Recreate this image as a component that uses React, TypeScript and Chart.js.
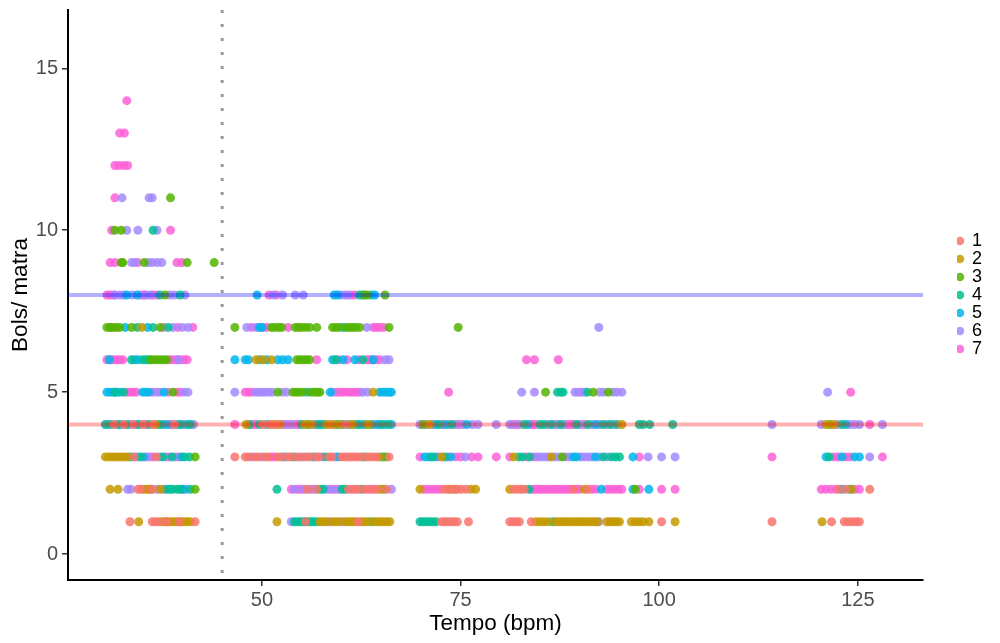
import React, { useEffect, useRef } from "react";
import { Chart, registerables } from "chart.js";

Chart.register(...registerables);

type Row = [number, number[]]; // [bols per matra, tempo values]

const seriesNames = ["1", "2", "3", "4", "5", "6", "7"];
const seriesColors = ["#F8766D", "#C49A00", "#53B400", "#00C094", "#00B6EB", "#A58AFF", "#FB61D7"];

const series1: Row[] = [
  [1, [33.4, 36.2, 36.6, 37.0, 38.0, 39.6, 41.6, 55.5, 62.1, 72.6, 73.0, 73.4, 73.8, 74.2, 74.6, 76.0, 81.2, 81.6, 82.0, 82.4, 83.9, 100.3, 114.2, 121.7, 123.3, 123.8, 124.3, 124.8, 125.2]],
  [2, [34.4, 34.8, 36.2, 55.7, 56.9, 60.9, 61.7, 62.1, 62.9, 63.3, 64.1, 64.5, 65.7, 72.9, 73.4, 74.0, 74.6, 75.1, 75.7, 81.7, 82.2, 82.6, 83.0, 89.2, 91.0, 122.6, 123.5, 126.5]],
  [3, [33.9, 36.7, 46.6, 47.9, 48.3, 49.1, 49.5, 50.4, 50.8, 52.0, 52.4, 53.2, 53.6, 54.4, 54.8, 55.6, 56.0, 56.8, 57.2, 58.4, 58.8, 60.0, 60.4, 60.8, 61.2, 61.6, 62.0, 62.4, 63.2, 63.6, 64.0, 64.4, 66.0]],
  [4, [31.4, 32.6, 33.8, 35.0, 36.2, 39.0, 50.1, 51.0, 51.8, 60.6]],
];

const series2: Row[] = [
  [1, [34.5, 37.4, 37.8, 38.2, 38.6, 39.0, 39.4, 39.8, 40.2, 40.6, 41.0, 51.9, 57.3, 57.7, 58.1, 58.9, 59.3, 59.7, 60.5, 60.9, 61.3, 61.7, 62.5, 62.9, 63.3, 64.1, 64.5, 64.9, 65.3, 65.7, 66.1, 84.5, 85.0, 85.5, 86.0, 87.0, 87.4, 87.8, 88.2, 88.6, 89.0, 89.4, 89.8, 90.2, 90.6, 91.0, 91.4, 91.8, 92.2, 93.4, 93.8, 94.2, 94.6, 95.0, 96.5, 97.0, 97.5, 98.0, 98.7, 102.0, 120.5]],
  [2, [30.9, 31.9, 35.1, 35.5, 36.0, 37.2, 64.9, 69.9, 73.6, 74.3, 76.3, 76.9, 81.2, 90.6, 124.2]],
  [3, [30.3, 30.7, 31.1, 31.5, 31.9, 32.3, 32.7, 33.1, 64.8, 72.6, 81.7, 86.4]],
  [4, [36.6, 48.0, 51.4, 52.2, 55.4, 56.2, 58.2, 59.0, 59.8, 61.4, 63.4, 71.1, 95.3, 121.0, 122.0]],
  [5, [64.0]],
  [6, [49.3, 50.1, 51.2]],
  [7, [34.9]],
];

const series3: Row[] = [
  [2, [41.6, 65.3, 97.0]],
  [3, [41.6, 65.6, 87.8]],
  [4, [70.3, 121.5]],
  [5, [38.8, 52.0, 53.9, 54.3, 54.7, 55.2, 56.2, 56.6, 57.0, 57.3, 85.7, 91.7, 93.6]],
  [6, [36.0, 36.4, 36.8, 37.2, 37.6, 38.0, 54.4, 54.8, 55.2, 55.6, 56.0]],
  [7, [30.5, 30.9, 31.3, 31.7, 32.1, 33.6, 37.2, 46.6, 51.2, 51.6, 52.1, 52.5, 54.2, 54.6, 55.0, 55.5, 56.0, 56.9, 58.9, 59.3, 59.7, 60.6, 61.0, 61.4, 61.8, 62.3, 66.0, 74.7]],
  [8, [37.8, 62.9, 63.3, 65.5]],
  [9, [32.3, 32.5, 35.2, 40.6, 44.0]],
  [10, [31.5, 32.3]],
  [11, [38.5]],
];

const series4: Row[] = [
  [1, [54.1, 54.5, 54.9, 55.3, 55.7, 56.1, 56.5, 56.9, 63.7, 69.9, 70.3, 70.7, 71.1, 71.5, 71.9, 86.6]],
  [2, [38.0, 38.7, 39.3, 39.7, 41.0, 51.9, 57.3, 57.7, 60.1, 60.5, 62.5, 83.6, 124.0]],
  [3, [33.5, 34.7, 37.5, 38.7, 40.3, 40.9, 54.0, 58.0, 62.8, 65.2, 71.4, 73.0, 82.3, 82.8, 83.7, 93.0, 94.0, 94.5, 95.0, 121.4]],
  [4, [30.3, 31.0, 31.8, 33.0, 34.6, 35.8, 37.4, 39.8, 41.0, 48.4, 49.7, 50.6, 55.0, 55.8, 57.0, 57.8, 59.4, 60.2, 61.0, 62.2, 63.0, 63.8, 65.0, 65.9, 72.3, 73.9, 83.0, 85.0, 85.5, 86.4, 87.6, 89.6, 91.0, 92.9, 93.8, 94.7, 97.5, 98.0, 98.8, 101.7, 123.0]],
  [5, [31.5, 32.6, 87.2, 87.6, 87.9, 91.0]],
  [6, [33.6, 35.0, 35.4, 59.3, 62.7]],
  [7, [34.3, 36.3, 38.2]],
  [8, [37.2, 39.7, 62.3, 62.7]],
  [10, [36.3]],
];

const series5: Row[] = [
  [2, [38.4, 40.1, 92.7, 96.7, 98.7, 123.0]],
  [3, [35.1, 39.9, 52.8, 56.4, 59.6, 70.5, 71.0, 71.8, 73.8, 89.2, 89.6, 92.0, 96.7, 121.0, 123.0, 124.6, 125.2]],
  [4, [32.2, 34.2, 37.0, 38.2, 39.4, 40.6, 57.4, 61.8, 64.6, 65.4, 66.3, 71.9, 73.1, 75.8, 83.5, 92.0, 123.5]],
  [5, [30.5, 30.9, 31.3, 31.7, 32.1, 35.0, 35.4, 35.8, 37.7, 55.7, 58.6, 64.8, 65.2, 65.6, 66.0, 66.3]],
  [6, [30.8, 34.0, 34.4, 35.8, 46.6, 47.9, 48.3, 49.7, 50.6, 52.0, 52.6, 53.3, 58.9, 60.2, 61.7, 64.0]],
  [7, [32.8, 35.6, 49.7, 50.0, 60.2]],
  [8, [33.0, 34.3, 49.4, 59.1, 59.5, 63.8, 64.2]],
];

const series6: Row[] = [
  [1, [53.7, 58.5, 60.1, 92.4]],
  [2, [33.1, 33.5, 36.8, 40.0, 40.5, 54.1, 55.3, 56.5, 58.1, 58.5, 59.3, 66.3]],
  [3, [34.3, 35.9, 37.1, 37.9, 39.1, 48.7, 50.0, 55.2, 57.6, 59.2, 75.6, 84.6, 85.0, 85.5, 86.0, 86.8, 87.3, 88.2, 88.7, 90.1, 90.6, 91.1, 91.6, 92.5, 93.5, 98.6, 100.3, 102.0, 126.5]],
  [4, [30.6, 33.4, 37.8, 40.2, 41.4, 53.0, 53.8, 56.6, 62.6, 64.2, 69.9, 70.7, 71.5, 73.5, 74.4, 75.3, 76.5, 77.2, 79.5, 81.2, 82.0, 86.0, 86.8, 87.2, 88.0, 90.0, 91.5, 92.4, 93.3, 94.2, 114.2, 120.4, 122.4, 124.0, 124.6, 125.2, 128.1]],
  [5, [36.8, 37.2, 40.2, 40.7, 46.6, 49.2, 49.6, 50.0, 50.4, 50.9, 51.3, 52.6, 53.1, 58.9, 62.7, 63.3, 82.7, 84.3, 89.4, 89.8, 90.2, 90.6, 92.5, 93.0, 94.2, 94.7, 95.3, 121.2]],
  [6, [39.5, 65.5, 66.0]],
  [7, [38.8, 40.0, 40.7, 48.1, 49.3, 63.2, 92.4]],
  [8, [31.5, 32.1, 32.6, 33.7, 35.2, 36.0, 38.4, 39.0, 40.3, 51.4, 52.6, 54.2, 55.2, 59.9, 60.4, 60.8]],
  [9, [33.6, 34.0, 35.7, 36.2, 36.8, 37.4]],
  [10, [33.0, 34.4, 36.8]],
  [11, [32.4, 35.8, 36.2]],
];

const series7: Row[] = [
  [2, [35.8, 37.6, 53.7, 54.5, 54.9, 56.1, 58.9, 59.7, 61.3, 63.7, 70.4, 70.9, 71.4, 71.9, 72.4, 84.0, 84.4, 84.8, 85.2, 85.6, 86.0, 86.4, 86.8, 87.2, 87.6, 88.0, 88.4, 88.8, 89.6, 90.0, 91.5, 92.0, 93.4, 93.9, 94.4, 94.9, 95.3, 97.5, 100.3, 102.0, 120.4, 121.0, 121.6, 122.2, 124.6, 125.2]],
  [3, [35.5, 36.3, 38.3, 39.5, 51.2, 51.6, 69.9, 72.2, 73.4, 74.4, 75.0, 76.4, 77.2, 79.5, 81.2, 83.3, 84.2, 97.5, 114.2, 122.0, 122.5, 123.5, 124.0, 128.1]],
  [4, [35.4, 38.6, 46.6, 48.8, 49.2, 52.6, 53.4, 54.2, 54.6, 58.6, 72.7, 74.8, 81.6, 82.4, 84.0, 84.4, 88.4, 88.8, 89.2, 90.5, 126.5]],
  [5, [33.0, 33.4, 33.8, 34.2, 36.3, 38.2, 39.3, 39.7, 47.9, 48.3, 48.7, 59.4, 59.8, 60.2, 60.7, 61.1, 61.5, 61.9, 62.3, 73.5, 124.1]],
  [6, [30.5, 30.9, 31.3, 31.7, 32.1, 32.5, 38.4, 38.8, 39.3, 39.7, 40.2, 40.6, 56.9, 59.6, 60.7, 62.2, 63.2, 63.6, 64.0, 64.4, 64.8, 83.3, 84.3, 87.3]],
  [7, [31.0, 37.6, 39.4, 41.3, 48.7, 50.1, 50.6, 53.3, 64.0, 64.4, 64.8, 65.3]],
  [8, [30.5, 30.9, 31.3, 34.7, 35.1, 35.5, 36.3, 36.8, 50.9, 51.8, 61.2, 61.7]],
  [9, [30.9, 31.5, 34.4, 39.3, 39.9]],
  [10, [31.1, 38.5]],
  [11, [31.5]],
  [12, [31.5, 32.0, 32.6, 33.1]],
  [13, [32.1, 32.7]],
  [14, [33.0]],
];

const allSeries = [series1, series2, series3, series4, series5, series6, series7];

const xTicks = [50, 75, 100, 125];
const yTicks = [0, 5, 10, 15];
const xRange = [25.6, 133.2];
const yRange = [-0.8, 16.8];
const upperBols = 8;
const lowerBols = 4;
const tempoCut = 45;

const FONT = "'Liberation Sans', Arial, sans-serif";

function withAlpha(hex: string, a: number): string {
  const n = parseInt(hex.slice(1), 16);
  return `rgba(${(n >> 16) & 255}, ${(n >> 8) & 255}, ${n & 255}, ${a})`;
}

function toPoints(rows: Row[]) {
  return rows.flatMap(([bols, tempos]) => tempos.map((t) => ({ x: t, y: bols })));
}

export default function App(): React.ReactElement {
  const canvasRef = useRef<HTMLCanvasElement | null>(null);

  useEffect(() => {
    if (!canvasRef.current) return;
    const ctx = canvasRef.current.getContext("2d");
    if (!ctx) return;

    const pointSets = allSeries.map((rows, i) => ({
      label: seriesNames[i],
      data: toPoints(rows),
      backgroundColor: withAlpha(seriesColors[i], 0.85),
      borderWidth: 0,
      pointRadius: 4.5,
      pointStyle: "circle" as const,
    }));

    const refLine = (pts: { x: number; y: number }[], color: string, width: number, dash: number[] = []) => ({
      label: "",
      data: pts,
      showLine: true,
      borderColor: color,
      borderWidth: width,
      borderDash: dash,
      pointRadius: 0,
      order: -1,
    });

    const chart = new Chart(ctx, {
      type: "scatter",
      data: {
        datasets: [
          ...pointSets,
          refLine([{ x: xRange[0], y: upperBols }, { x: xRange[1], y: upperBols }], "rgba(0, 0, 255, 0.3)", 4),
          refLine([{ x: xRange[0], y: lowerBols }, { x: xRange[1], y: lowerBols }], "rgba(255, 0, 0, 0.3)", 4),
          refLine([{ x: tempoCut, y: yRange[1] }, { x: tempoCut, y: yRange[0] }], "#999999", 3, [3, 11]),
        ] as never[],
      },
      options: {
        responsive: true,
        maintainAspectRatio: false,
        animation: false,
        events: [],
        layout: { padding: { top: 10, right: 8, bottom: 0, left: 0 } },
        plugins: {
          tooltip: { enabled: false },
          legend: {
            position: "right",
            fullSize: false,
            labels: {
              usePointStyle: true,
              boxWidth: 6,
              boxHeight: 6,
              padding: 0,
              color: "#000",
              font: { family: FONT, size: 18 },
              filter: (item) => (item.datasetIndex ?? 0) < seriesNames.length,
            },
          },
        },
        scales: {
          x: {
            type: "linear",
            min: xRange[0],
            max: xRange[1],
            afterBuildTicks: (s) => {
              s.ticks = xTicks.map((v) => ({ value: v }));
            },
            afterFit: (s) => {
              s.height = 63;
              s.paddingLeft = 0;
              s.paddingRight = 0;
            },
            grid: { drawOnChartArea: false, drawTicks: true, tickLength: 6, color: "#333", lineWidth: 1.5 },
            border: { display: true, color: "#000", width: 2 },
            ticks: { color: "#4D4D4D", font: { family: FONT, size: 20 }, padding: 2 },
            title: {
              display: true,
              text: "Tempo (bpm)",
              color: "#000",
              font: { family: FONT, size: 22.5 },
              padding: { top: 0, bottom: 6 },
            },
          },
          y: {
            type: "linear",
            min: yRange[0],
            max: yRange[1],
            afterBuildTicks: (s) => {
              s.ticks = yTicks.map((v) => ({ value: v }));
            },
            afterFit: (s) => {
              s.width = 68;
              s.paddingTop = 0;
              s.paddingBottom = 0;
            },
            grid: { drawOnChartArea: false, drawTicks: true, tickLength: 6, color: "#333", lineWidth: 1.5 },
            border: { display: true, color: "#000", width: 2 },
            ticks: { color: "#4D4D4D", font: { family: FONT, size: 20 }, padding: 4 },
            title: {
              display: true,
              text: "Bols/ matra",
              color: "#000",
              font: { family: FONT, size: 22.5 },
              padding: { top: 7, bottom: 0 },
            },
          },
          gap: {
            type: "linear",
            position: "right",
            display: true,
            grid: { display: false },
            border: { display: false },
            ticks: { display: false },
            afterFit: (s) => {
              s.width = 34;
              s.paddingTop = 0;
              s.paddingBottom = 0;
            },
          },
        },
      },
    });

    return () => {
      chart.destroy();
    };
  }, []);

  return (
    <div style={{ position: "fixed", left: 0, top: 0, width: 1000, height: 643, background: "#fff" }}>
      <canvas ref={canvasRef} />
    </div>
  );
}
